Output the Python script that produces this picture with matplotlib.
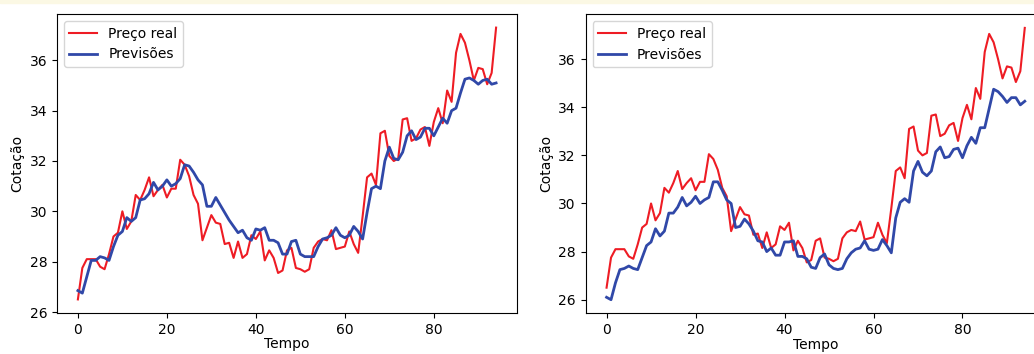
import numpy as np
import matplotlib
matplotlib.use("Agg")
from matplotlib import pyplot as plt
from matplotlib.patches import Rectangle

# preço real (mesma série nos dois gráficos)
preco_real = [26.5, 27.75, 28.1, 28.1, 28.1, 27.8, 27.7, 28.3, 29.0, 29.15,
              30.0, 29.3, 29.6, 30.65, 30.45, 30.85, 31.35, 30.6, 30.85, 31.05,
              30.55, 30.9, 30.9, 32.05, 31.85, 31.4, 30.65, 30.3, 28.85, 29.35,
              29.85, 29.55, 29.5, 28.7, 28.75, 28.15, 28.8, 28.15, 28.3, 29.05,
              28.9, 29.2, 28.05, 28.45, 28.15, 27.55, 27.65, 28.45, 28.55, 27.75,
              27.7, 27.6, 27.7, 28.55, 28.8, 28.9, 28.85, 29.25, 28.5, 28.55,
              28.6, 29.2, 28.7, 28.35, 29.8, 31.35, 31.5, 31.05, 33.1, 33.2,
              32.2, 32.0, 32.1, 33.65, 33.7, 32.8, 32.9, 33.25, 33.35, 32.6,
              33.55, 34.1, 33.5, 34.8, 34.35, 36.3, 37.05, 36.7, 36.0, 35.2,
              35.7, 35.65, 35.05, 35.5, 37.3]

previsoes_1 = [26.85, 26.75, 27.4, 28.05, 28.05, 28.2, 28.15, 28.05, 28.6, 29.05,
               29.2, 29.75, 29.6, 29.75, 30.45, 30.5, 30.7, 31.15, 30.85, 31.0,
               31.25, 31.0, 31.1, 31.3, 31.85, 31.8, 31.55, 31.25, 31.05, 30.2,
               30.2, 30.55, 30.25, 29.95, 29.65, 29.4, 29.15, 29.25, 28.95, 28.85,
               29.3, 29.25, 29.35, 28.85, 28.85, 28.75, 28.3, 28.3, 28.8, 28.85,
               28.3, 28.2, 28.2, 28.2, 28.6, 28.9, 28.95, 29.05, 29.35, 29.05,
               28.95, 29.05, 29.4, 29.2, 28.9, 29.95, 30.9, 31.0, 30.9, 32.0,
               32.55, 32.1, 32.05, 32.35, 33.0, 33.2, 32.85, 32.95, 33.3, 33.3,
               33.0, 33.35, 33.7, 33.5, 34.0, 34.1, 34.7, 35.25, 35.3, 35.2,
               35.05, 35.2, 35.25, 35.05, 35.1]

previsoes_2 = [26.1, 26.0, 26.7, 27.25, 27.3, 27.4, 27.3, 27.25, 27.75, 28.25,
               28.4, 28.95, 28.65, 28.85, 29.6, 29.6, 29.85, 30.25, 29.9, 30.05,
               30.3, 30.0, 30.15, 30.25, 30.9, 30.9, 30.55, 30.15, 30.0, 29.0,
               29.05, 29.35, 29.15, 28.85, 28.45, 28.4, 28.0, 28.15, 27.85, 27.85,
               28.4, 28.4, 28.45, 27.8, 27.8, 27.7, 27.35, 27.3, 27.75, 27.9,
               27.45, 27.3, 27.25, 27.3, 27.7, 27.95, 28.1, 28.15, 28.45, 28.1,
               28.05, 28.1, 28.5, 28.25, 27.95, 29.4, 30.05, 30.2, 30.05, 31.35,
               31.75, 31.3, 31.15, 31.35, 32.15, 32.35, 31.9, 31.95, 32.25, 32.3,
               31.9, 32.4, 32.75, 32.5, 33.15, 33.15, 33.95, 34.75, 34.65, 34.45,
               34.2, 34.4, 34.4, 34.1, 34.25]

plt.rcParams['font.size'] = 10

fig = plt.figure(figsize=(10.34, 3.54), dpi=100)
fig.patches.append(Rectangle((0, 0.991), 1, 0.009, transform=fig.transFigure,
                             color='#fbf8e4', zorder=0))

ax1 = fig.add_axes([0.0551, 0.1158, 0.4449, 0.8446])
ax2 = fig.add_axes([0.5664, 0.1150, 0.4449, 0.8446])

for ax, prev in [(ax1, previsoes_1), (ax2, previsoes_2)]:
    ax.plot(preco_real, color='#ee1c24', linewidth=1.5, label='Preço real')
    ax.plot(prev, color='#3048a8', linewidth=2, label='Previsões')
    ax.set_xlabel('Tempo', labelpad=0.5)
    ax.set_ylabel('Cotação')
    ax.legend(loc='upper left')

fig.savefig('out.png', dpi=100)
